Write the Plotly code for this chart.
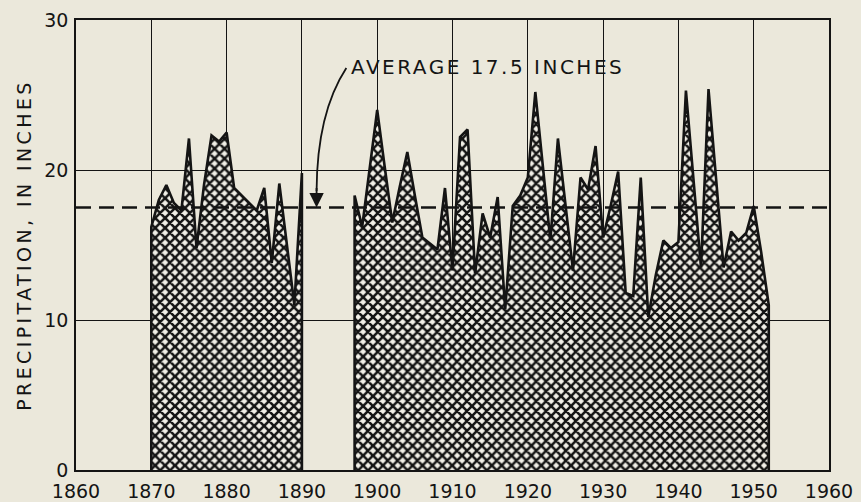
import plotly.graph_objects as go

# Annual precipitation, in inches
years_early = list(range(1870, 1891))
precip_early = [16.2, 18.0, 19.0, 17.8, 17.3, 22.1, 14.8, 19.0, 22.3, 21.9, 22.5,
                18.8, 18.3, 17.8, 17.3, 18.8, 13.8, 19.1, 15.0, 11.0, 19.8]

years_late = list(range(1897, 1953))
precip_late = [18.3, 16.2, 20.0, 24.0, 20.2, 16.5, 18.9, 21.2, 18.3, 15.5,
               15.1, 14.7, 18.8, 13.3, 22.2, 22.7, 13.1, 17.1, 15.5, 18.2,
               10.7, 17.6, 18.3, 19.5, 25.2, 20.2, 15.3, 22.1, 17.7, 13.3,
               19.5, 18.7, 21.6, 15.5, 17.6, 19.9, 11.8, 11.6, 19.5, 10.2,
               13.0, 15.3, 14.8, 15.2, 25.3, 19.4, 13.5, 25.4, 19.5, 13.5,
               15.9, 15.3, 15.8, 17.6, 14.5, 11.0]

average = 17.5
x_ticks = list(range(1860, 1961, 10))
y_ticks = [0, 10, 20, 30]

BG = '#ebe8db'
INK = '#141414'
FONT = 'DejaVu Sans'


def spaced(text, px):
    # the original lettering is widely tracked
    return f'<span style="letter-spacing:{px}px">{text}</span>'


fig = go.Figure()

# each record block is closed down to the zero line so its ends are drawn
for yrs, vals in [(years_early, precip_early), (years_late, precip_late)]:
    xs = [yrs[0]] + yrs + [yrs[-1]]
    ys = [0] + vals + [0]
    fig.add_trace(go.Scatter(
        x=xs, y=ys,
        mode='lines',
        line=dict(color=INK, width=2.6),
        fill='tozeroy',
        fillcolor=BG,
        fillpattern=dict(shape='x', size=7, solidity=0.6,
                         fgcolor=INK, bgcolor='#f1efe7', fillmode='replace'),
        showlegend=False,
        hoverinfo='skip'
    ))

# average line
fig.add_shape(type='line', xref='paper', x0=0, x1=1, yref='y', y0=average, y1=average,
              line=dict(color=INK, width=2.5, dash='15px,8px'), layer='above')

# curved leader from the label down to the average line
fig.add_shape(type='path', xref='x', yref='y',
              path='M 1895.9,26.8 Q 1892.0,23.8 1891.95,18.6',
              line=dict(color=INK, width=1.8))
fig.add_annotation(x=1891.95, y=average, ax=1891.95, ay=18.9,
                   xref='x', yref='y', axref='x', ayref='y',
                   text='', showarrow=True, arrowhead=2, arrowsize=1.6,
                   arrowwidth=1.8, arrowcolor=INK)
fig.add_annotation(x=1896.2, y=26.9, xref='x', yref='y',
                   text=spaced(f'AVERAGE {average} INCHES', 2.5), showarrow=False,
                   xanchor='left', yanchor='middle',
                   font=dict(family=FONT, size=20, color=INK))

fig.update_layout(
    width=861, height=502,
    paper_bgcolor=BG,
    plot_bgcolor=BG,
    margin=dict(l=76, r=32, t=20, b=32),
    font=dict(family=FONT, color=INK),
    xaxis=dict(
        range=[1860, 1960],
        tickvals=x_ticks,
        ticktext=[str(v) for v in x_ticks],
        showgrid=True, gridcolor=INK, gridwidth=1.2,
        showline=True, linecolor=INK, linewidth=1.6, mirror=True,
        zeroline=False, ticks='', automargin=False,
        ticklabelstandoff=3,
        tickfont=dict(family=FONT, size=19, color=INK)
    ),
    yaxis=dict(
        range=[0, 30],
        tickvals=y_ticks,
        ticktext=[str(v) for v in y_ticks],
        showgrid=True, gridcolor=INK, gridwidth=1.2,
        showline=True, linecolor=INK, linewidth=1.6, mirror=True,
        zeroline=False, ticks='', automargin=False,
        ticklabelstandoff=2,
        tickfont=dict(family=FONT, size=19, color=INK),
        title=dict(text=spaced('PRECIPITATION, IN INCHES', 3.4), standoff=8,
                   font=dict(family=FONT, size=19, color=INK))
    ),
)

# drop the page margin so the figure sits flush in the window
fig.write_html("out.html", config={'displayModeBar': False}, post_script=(
    "document.body.style.margin='0';"
    "document.body.style.background='" + BG + "';"
))
